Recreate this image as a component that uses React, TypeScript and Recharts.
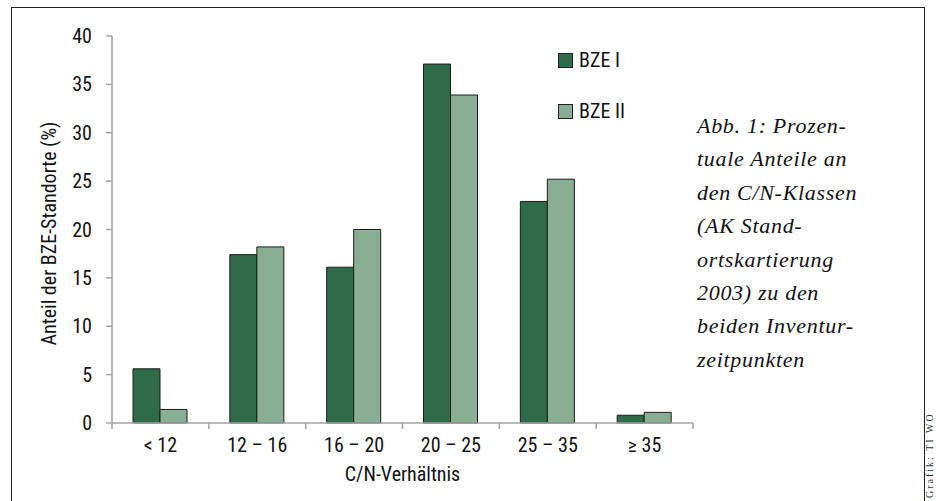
import React from 'react';
import { BarChart, Bar, XAxis, YAxis, Legend } from 'recharts';

const categories = ['< 12', '12 – 16', '16 – 20', '20 – 25', '25 – 35', '≥ 35'];
const bzeI = [5.6, 17.4, 16.1, 37.1, 22.9, 0.8];
const bzeII = [1.4, 18.2, 20.0, 33.9, 25.2, 1.1];
const yTicks = [0, 5, 10, 15, 20, 25, 30, 35, 40];
const captionLines = [
  'Abb. 1: Prozen-',
  'tuale Anteile an',
  'den C/N-Klassen',
  '(AK Stand-',
  'ortskartierung',
  '2003) zu den',
  'beiden Inventur-',
  'zeitpunkten',
];

const data = categories.map((c, i) => ({ name: c, 'BZE I': bzeI[i], 'BZE II': bzeII[i] }));

const FONT = "'Roboto Condensed', 'Liberation Sans Narrow', Roboto, sans-serif";
const STRETCH = 'condensed';
const AXIS = '#a3a3a3';
const PLOT_W = 581;
const band = PLOT_W / categories.length;

const XTick = (props: any) => {
  const { x, y, payload, index } = props;
  const axisY = y - 6;
  const left = x - band / 2;
  const right = x + band / 2;
  return (
    <g>
      <line x1={left} y1={axisY} x2={left} y2={axisY + 6} stroke={AXIS} strokeWidth={1.5} />
      {index === categories.length - 1 && (
        <line x1={right} y1={axisY} x2={right} y2={axisY + 6} stroke={AXIS} strokeWidth={1.5} />
      )}
      <text x={x} y={y + 23} textAnchor="middle" fontSize={20} fontFamily={FONT} style={{ fontStretch: STRETCH }} fill="#111">
        {payload.value}
      </text>
    </g>
  );
};

const YTick = (props: any) => {
  const { x, y, payload } = props;
  return (
    <text x={x} y={y} dy={7} textAnchor="end" fontSize={20} fontFamily={FONT} style={{ fontStretch: STRETCH }} fill="#111">
      {payload.value}
    </text>
  );
};

const LegendBox = (props: any) => {
  const { payload } = props;
  return (
    <div style={{ fontFamily: FONT, fontStretch: STRETCH, fontSize: 20, color: '#111' }}>
      {payload.map((p: any, i: number) => (
        <div key={p.value} style={{ display: 'flex', alignItems: 'center', height: 20, marginBottom: i === 0 ? 31 : 0 }}>
          <span style={{ width: 13, height: 13, background: p.color, border: '1px solid #222', marginRight: 6 }} />
          <span>{p.value}</span>
        </div>
      ))}
    </div>
  );
};

export default function App() {
  return (
    <div style={{ position: 'absolute', left: 0, top: 0, width: 936, height: 501, overflow: 'hidden', background: '#fff' }}>
      <div style={{ position: 'absolute', left: 11, top: 7, width: 912, height: 520, border: '1.5px solid #222' }} />
      <div style={{ position: 'absolute', left: 0, top: 0 }}>
        <BarChart width={936} height={501} data={data} margin={{ top: 36, right: 243, left: 0, bottom: 8 }} barCategoryGap="21.7%" barGap={0}>
          <XAxis
            dataKey="name"
            height={70}
            tickSize={6}
            tickMargin={0}
            tickLine={false}
            axisLine={{ stroke: AXIS, strokeWidth: 1.5 }}
            tick={<XTick />}
            interval={0}
            label={(p: any) => {
              const vb = p.viewBox;
              return (
                <text x={vb.x + vb.width / 2} y={vb.y + 58} textAnchor="middle" fontSize={20} fontFamily={FONT} style={{ fontStretch: STRETCH }} fill="#111">
                  C/N-Verhältnis
                </text>
              );
            }}
          />
          <YAxis
            width={112}
            domain={[0, 40]}
            ticks={yTicks}
            interval={0}
            tickSize={6}
            tickMargin={14}
            axisLine={{ stroke: AXIS, strokeWidth: 1.5 }}
            tickLine={{ stroke: AXIS, strokeWidth: 1.5 }}
            tick={<YTick />}
            label={(p: any) => {
              const vb = p.viewBox;
              const cx = 49;
              const cy = vb.y + vb.height / 2 + 4;
              return (
                <text x={cx} y={cy} transform={`rotate(-90, ${cx}, ${cy})`} textAnchor="middle" dominantBaseline="central" fontSize={20} fontFamily={FONT} style={{ fontStretch: STRETCH }} fill="#111">
                  Anteil der BZE-Standorte (%)
                </text>
              );
            }}
          />
          <Legend layout="vertical" align="center" verticalAlign="middle" content={<LegendBox />} wrapperStyle={{ left: 558, top: 50, width: 'auto', height: 'auto' }} />
          <Bar dataKey="BZE I" fill="#2f6b48" stroke="#1c1c1c" strokeWidth={1} isAnimationActive={false} />
          <Bar dataKey="BZE II" fill="#8aae93" stroke="#1c1c1c" strokeWidth={1} isAnimationActive={false} />
        </BarChart>
      </div>
      <div style={{ position: 'absolute', left: 697, top: 109, fontFamily: "'Liberation Serif', serif", fontStyle: 'italic', fontSize: 22, lineHeight: '33.4px', color: '#111', letterSpacing: 0.7, whiteSpace: 'nowrap' }}>
        {captionLines.map((l) => (
          <div key={l}>{l}</div>
        ))}
      </div>
      <div style={{ position: 'absolute', left: 925, top: 498, transform: 'rotate(-90deg)', transformOrigin: 'left top', fontFamily: "'Liberation Serif', serif", fontSize: 10, lineHeight: '10px', letterSpacing: 2, color: '#333', whiteSpace: 'nowrap' }}>
        Grafik: TI WO
      </div>
    </div>
  );
}
